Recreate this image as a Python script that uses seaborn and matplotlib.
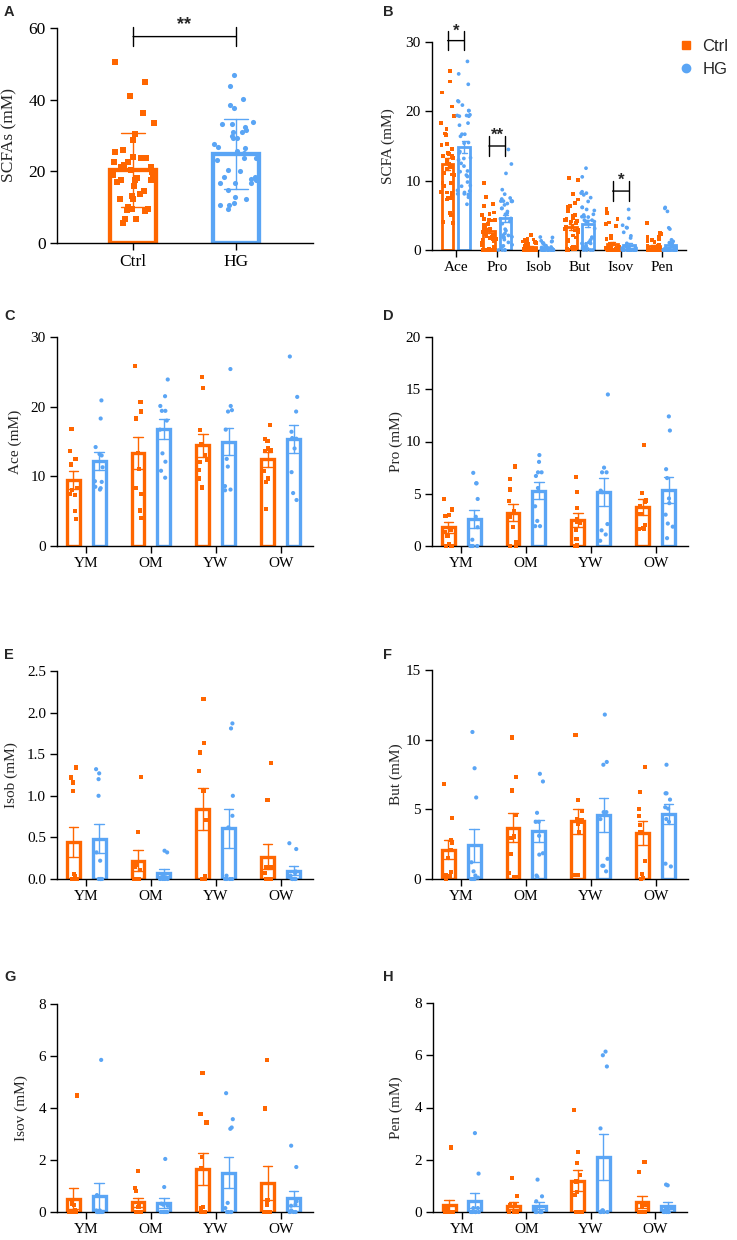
import numpy as np
import pandas as pd
import matplotlib
matplotlib.use("Agg")
import matplotlib.pyplot as plt
from matplotlib.lines import Line2D
from matplotlib.ticker import FormatStrFormatter
import seaborn as sns

# ---------------- data ----------------
GROUPS = ["Ctrl", "HG"]
COHORTS = ["YM", "OM", "YW", "OW"]
SCFAS = ["Ace", "Pro", "Isob", "But", "Isov", "Pen"]

# Panel A: total SCFAs per subject (mM)
A_CTRL = [50.5, 44.9, 40.9, 36.4, 33.6, 30.4, 28.8, 25.5, 26.0, 24.1, 23.8, 23.7, 22.5,
          22.7, 21.8, 21.3, 21.1, 20.4, 19.9, 19.0, 18.1, 18.1, 17.6, 17.6, 17.6, 16.9,
          15.8, 14.6, 13.7, 13.1, 12.3, 12.3, 10.0, 9.5, 9.2, 9.5, 8.8, 6.7, 6.7, 5.5]
A_HG = [46.8, 43.7, 40.2, 38.4, 37.7, 32.3, 33.2, 33.9, 33.3, 31.4, 29.4, 30.9, 30.9,
        29.2, 29.9, 27.6, 26.9, 26.4, 25.8, 25.1, 23.7, 23.6, 23.2, 20.4, 20.2, 18.5,
        17.6, 18.5, 17.9, 16.7, 16.7, 16.7, 14.8, 11.1, 12.3, 12.9, 10.6, 10.6, 9.6]

# Panels C-H: one list per cohort (YM, OM, YW, OW)
ACE_CTRL = [[16.8, 13.6, 12.5, 11.7, 8.3, 8.0, 7.5, 7.3, 5.0, 3.9],
            [25.8, 20.7, 19.3, 18.3, 13.3, 11.1, 8.3, 7.5, 5.1, 4.0],
            [24.3, 22.7, 16.6, 14.6, 13.0, 12.4, 12.0, 10.9, 9.7, 8.4],
            [17.4, 15.3, 15.1, 14.0, 13.8, 13.6, 10.8, 9.7, 9.2, 5.3]]
ACE_HG = [[20.9, 18.3, 14.2, 13.2, 13.0, 11.3, 9.3, 9.2, 8.5, 8.3, 8.1],
          [23.9, 21.5, 20.1, 19.4, 19.4, 18.0, 16.7, 13.3, 12.1, 10.8, 9.8],
          [25.4, 20.1, 19.5, 19.3, 16.7, 12.5, 11.4, 8.6, 8.1, 8.0],
          [27.2, 21.4, 19.3, 16.4, 15.5, 15.4, 14.0, 10.6, 7.6, 6.6]]
PRO_CTRL = [[4.5, 3.5, 3.0, 2.9, 1.5, 1.3, 1.0, 0.2, 0.0, 0.0],
            [7.6, 6.4, 5.4, 4.3, 3.3, 2.8, 1.85, 0.4, 0.0, 0.0],
            [6.6, 5.2, 3.6, 2.55, 2.3, 2.2, 1.5, 0.7, 0.05, 0.0],
            [9.7, 5.05, 4.35, 4.25, 3.8, 3.1, 2.0, 1.7, 1.6, 1.6]]
PRO_HG = [[7.0, 6.0, 6.0, 4.5, 2.8, 1.8, 0.6, 0.0, 0.0, 0.0, 0.0],
          [8.7, 8.05, 7.05, 7.05, 6.7, 5.55, 3.8, 2.4, 1.9, 1.9],
          [14.5, 7.5, 7.05, 7.05, 5.3, 5.15, 2.1, 1.5, 1.1, 0.5],
          [12.4, 11.05, 7.35, 6.5, 4.55, 4.1, 3.0, 2.15, 1.85, 0.75]]
ISOB_CTRL = [[1.34, 1.22, 1.16, 1.06, 0.06, 0.04, 0.0, 0.0, 0.0, 0.0, 0.0],
             [1.23, 0.56, 0.17, 0.14, 0.11, 0.0, 0.0, 0.0, 0.0, 0.0],
             [2.16, 1.63, 1.52, 1.30, 1.06, 0.71, 0.04, 0.0, 0.0, 0.0],
             [1.39, 0.95, 0.14, 0.14, 0.07, 0.0, 0.0, 0.0, 0.0, 0.0]]
ISOB_HG = [[1.32, 1.27, 1.20, 1.00, 0.32, 0.22, 0.0, 0.0, 0.0, 0.0, 0.0],
           [0.34, 0.32, 0.05, 0.02, 0.02, 0.01, 0.0, 0.0, 0.0, 0.0],
           [1.87, 1.81, 1.00, 0.76, 0.62, 0.04, 0.0, 0.0, 0.0, 0.0],
           [0.43, 0.36, 0.09, 0.07, 0.04, 0.02, 0.0, 0.0, 0.0, 0.0]]
BUT_CTRL = [[6.8, 4.35, 2.8, 2.6, 2.1, 1.5, 0.5, 0.3, 0.2, 0.0],
            [10.15, 7.3, 6.35, 4.6, 3.05, 2.95, 1.8, 0.45, 0.15, 0.15],
            [10.35, 5.65, 4.9, 4.3, 4.2, 4.1, 3.95, 3.35, 0.3, 0.3],
            [8.05, 6.25, 5.05, 4.55, 3.9, 3.35, 1.3, 0.35, 0.1, 0.0]]
BUT_HG = [[10.55, 7.95, 5.85, 1.2, 0.55, 0.25, 0.1, 0.0, 0.0, 0.0, 0.0],
          [7.55, 7.0, 4.75, 4.1, 4.1, 3.1, 1.85, 1.75, 0.25, 0.15],
          [11.8, 8.4, 8.2, 4.8, 4.8, 4.3, 1.45, 0.95, 0.95, 0.55],
          [8.2, 6.15, 6.15, 5.7, 5.15, 5.05, 4.3, 4.1, 1.1, 0.9]]
ISOV_CTRL = [[4.48, 0.47, 0.32, 0.28, 0.06, 0.0, 0.0, 0.0, 0.0, 0.0, 0.0],
             [1.59, 0.92, 0.82, 0.28, 0.19, 0.0, 0.0, 0.0, 0.0, 0.0],
             [5.36, 3.78, 3.44, 2.10, 1.68, 0.19, 0.15, 0.0, 0.0, 0.0],
             [5.86, 3.98, 0.47, 0.41, 0.28, 0.0, 0.0, 0.0, 0.0, 0.0]]
ISOV_HG = [[5.85, 0.65, 0.06, 0.06, 0.0, 0.0, 0.0, 0.0, 0.0, 0.0, 0.0],
           [2.04, 0.96, 0.32, 0.28, 0.24, 0.0, 0.0, 0.0, 0.0, 0.0, 0.0],
           [4.57, 3.57, 3.25, 3.20, 0.35, 0.15, 0.0, 0.0, 0.0, 0.0],
           [2.55, 1.73, 0.41, 0.28, 0.24, 0.06, 0.0, 0.0, 0.0, 0.0]]
PEN_CTRL = [[2.47, 0.15, 0.15, 0.0, 0.0, 0.0, 0.0, 0.0, 0.0, 0.0, 0.0],
            [1.30, 0.60, 0.28, 0.28, 0.0, 0.0, 0.0, 0.0, 0.0, 0.0],
            [3.89, 2.30, 1.88, 1.42, 1.17, 0.75, 0.64, 0.0, 0.0, 0.0],
            [1.90, 1.53, 0.28, 0.22, 0.0, 0.0, 0.0, 0.0, 0.0, 0.0]]
PEN_HG = [[3.02, 1.47, 0.15, 0.15, 0.0, 0.0, 0.0, 0.0, 0.0, 0.0, 0.0],
          [1.24, 0.60, 0.41, 0.15, 0.0, 0.0, 0.0, 0.0, 0.0, 0.0],
          [6.14, 6.00, 5.57, 3.20, 0.06, 0.06, 0.0, 0.0, 0.0, 0.0],
          [1.05, 1.02, 0.15, 0.15, 0.0, 0.0, 0.0, 0.0, 0.0, 0.0]]

# significance annotations (panel B): (scfa, stars, bracket y, star y)
B_SIG = [("Ace", "*", 30.2, 31.6), ("Pro", "**", 15.0, 16.6), ("Isov", "*", 8.5, 10.1)]

# ---------------- tables ----------------
DATA = {"Ace": (ACE_CTRL, ACE_HG), "Pro": (PRO_CTRL, PRO_HG), "Isob": (ISOB_CTRL, ISOB_HG),
        "But": (BUT_CTRL, BUT_HG), "Isov": (ISOV_CTRL, ISOV_HG), "Pen": (PEN_CTRL, PEN_HG)}
rows = []
for scfa, (ctrl, hg) in DATA.items():
    for g, lists in zip(GROUPS, (ctrl, hg)):
        for coh, vals in zip(COHORTS, lists):
            for v in vals:
                rows.append((scfa, coh, g, v))
df = pd.DataFrame(rows, columns=["scfa", "cohort", "group", "value"])
dfA = pd.DataFrame({"group": ["Ctrl"] * len(A_CTRL) + ["HG"] * len(A_HG),
                    "value": A_CTRL + A_HG})

# ---------------- style ----------------
sns.set_theme(style="ticks")
plt.rcParams["font.family"] = ["Liberation Serif", "DejaVu Serif"]
np.random.seed(7)

ORANGE = "#FF6600"
BLUE = "#5AA5F5"
PAL = {"Ctrl": ORANGE, "HG": BLUE}
MARK = {"Ctrl": "s", "HG": "o"}
SANS = ["Liberation Sans", "DejaVu Sans"]

W, H = 737, 1240
fig = plt.figure(figsize=(W / 100, H / 100), dpi=100)


def make_ax(l, t, r, b):
    return fig.add_axes([l / W, 1 - b / H, (r - l) / W, (b - t) / H])


def style(ax, xlim, ylim, yticks, ylabel, fs, label_x, fmt=None):
    ax.set_xlim(*xlim)
    ax.set_ylim(*ylim)
    ax.set_yticks(yticks)
    if fmt:
        ax.yaxis.set_major_formatter(FormatStrFormatter(fmt))
    ax.set_xlabel("")
    ax.set_ylabel(ylabel, fontsize=fs)
    ax.yaxis.set_label_coords(label_x, 0.5)
    sns.despine(ax=ax)
    ax.tick_params(axis="both", direction="out", length=5, width=1.0, labelsize=fs,
                   color="black", labelcolor="black", pad=3)
    for s in ("left", "bottom"):
        ax.spines[s].set_linewidth(1.0)
        ax.spines[s].set_color("black")


def bracket(ax, x1, x2, y, stars, star_y, fs):
    ax.annotate("", xy=(x1, y), xytext=(x2, y), xycoords="data", textcoords="data",
                arrowprops=dict(arrowstyle="|-|,widthA=0.35,widthB=0.35", lw=1.0,
                                color="black", shrinkA=0, shrinkB=0, mutation_scale=20),
                annotation_clip=False)
    ax.text((x1 + x2) / 2, star_y, stars, ha="center", va="center", fontsize=fs,
            family=SANS, fontweight="bold", clip_on=False)


# ---------------- Panel A ----------------
axA = make_ax(57, 28, 313, 243)
for g in GROUPS:
    sub = dfA[dfA.group == g]
    sns.barplot(data=sub, x="group", y="value", order=GROUPS, color=PAL[g], fill=False,
                width=0.44, linewidth=3.1, errorbar="sd", capsize=0.24,
                err_kws={"color": PAL[g], "linewidth": 1.0}, ax=axA)
for g in GROUPS:
    sub = dfA[dfA.group == g]
    sns.stripplot(data=sub, x="group", y="value", order=GROUPS, color=PAL[g],
                  marker=MARK[g], size=3.7, jitter=0.21, linewidth=0, ax=axA, clip_on=False)
style(axA, (-0.74, 1.75), (0, 60), [0, 20, 40, 60], "SCFAs (mM)", 12.5, -0.156)
bracket(axA, 0, 1, 57.6, "**", 61.0, 13)

# ---------------- Panel B ----------------
axB = make_ax(432, 42, 686, 250)
for g in GROUPS:
    sub = df[df.group == g]
    sns.barplot(data=sub, x="scfa", y="value", order=SCFAS, hue="group", hue_order=GROUPS,
                palette=PAL, dodge=True, fill=False, width=0.8, gap=0.3, linewidth=2.0,
                errorbar="se", capsize=0.25, err_kws={"color": PAL[g], "linewidth": 1.0},
                legend=False, ax=axB)
bar_x = [p.get_x() + p.get_width() / 2 for p in axB.patches]
ctrl_x, hg_x = bar_x[:len(SCFAS)], bar_x[len(SCFAS):2 * len(SCFAS)]
for g in GROUPS:
    sub = df[df.group == g]
    sns.stripplot(data=sub, x="scfa", y="value", order=SCFAS, hue="group", hue_order=GROUPS,
                  palette=PAL, dodge=True, jitter=0.34, marker=MARK[g], size=2.7,
                  linewidth=0, legend=False, ax=axB, clip_on=False)
style(axB, (-0.58, 5.58), (0, 30), [0, 10, 20, 30], "SCFA (mM)", 11, -0.146)
for scfa, stars, by, sy in B_SIG:
    i = SCFAS.index(scfa)
    bracket(axB, ctrl_x[i], hg_x[i], by, stars, sy, 12)
handles = [Line2D([], [], marker="s", color=ORANGE, linestyle="", markersize=6),
           Line2D([], [], marker="o", color=BLUE, linestyle="", markersize=6)]
axB.legend(handles, GROUPS, loc="upper left", bbox_to_anchor=(0.975, 1.015), frameon=False,
           prop={"family": SANS, "size": 12}, handletextpad=0.55, labelspacing=0.5,
           borderaxespad=0, borderpad=0, handlelength=0.8)

# ---------------- Panels C-H ----------------
PANELS = [
    ("Ace", (57, 337, 313, 546), (0, 30), [0, 10, 20, 30], None, -0.137),
    ("Pro", (432, 337, 688, 546), (0, 20), [0, 5, 10, 15, 20], None, -0.113),
    ("Isob", (57, 671, 313, 879), (0, 2.5), [0, 0.5, 1.0, 1.5, 2.0, 2.5], "%.1f", -0.152),
    ("But", (432, 670, 688, 879), (0, 15), [0, 5, 10, 15], None, -0.113),
    ("Isov", (57, 1004, 313, 1212), (0, 8), [0, 2, 4, 6, 8], None, -0.113),
    ("Pen", (433, 1003, 687, 1212), (0, 8), [0, 2, 4, 6, 8], None, -0.117),
]
for scfa, box, ylim, yticks, fmt, lx in PANELS:
    ax = make_ax(*box)
    d = df[df.scfa == scfa]
    for g in GROUPS:
        sub = d[d.group == g]
        sns.barplot(data=sub, x="cohort", y="value", order=COHORTS, hue="group",
                    hue_order=GROUPS, palette=PAL, dodge=True, fill=False, width=0.8, gap=0.5,
                    linewidth=2.4, errorbar="se", capsize=0.29,
                    err_kws={"color": PAL[g], "linewidth": 1.0}, legend=False, ax=ax)
    for g in GROUPS:
        sub = d[d.group == g]
        sns.stripplot(data=sub, x="cohort", y="value", order=COHORTS, hue="group",
                      hue_order=GROUPS, palette=PAL, dodge=True, jitter=0.13, marker=MARK[g],
                      size=3.0, linewidth=0, legend=False, ax=ax, clip_on=False)
    style(ax, (-0.45, 3.5), ylim, yticks, f"{scfa} (mM)", 11, lx, fmt)

# ---------------- panel letters ----------------
for letter, x, y in [("A", 4, 12.5), ("B", 383, 11.5), ("C", 4, 316), ("D", 383, 316),
                     ("E", 4, 655), ("F", 383, 655), ("G", 4, 977), ("H", 383, 977)]:
    fig.text(x / W, 1 - y / H, letter, fontsize=10.5, fontweight="bold", family=SANS,
             ha="left", va="center")

fig.savefig("out.png", dpi=100, facecolor="white")
